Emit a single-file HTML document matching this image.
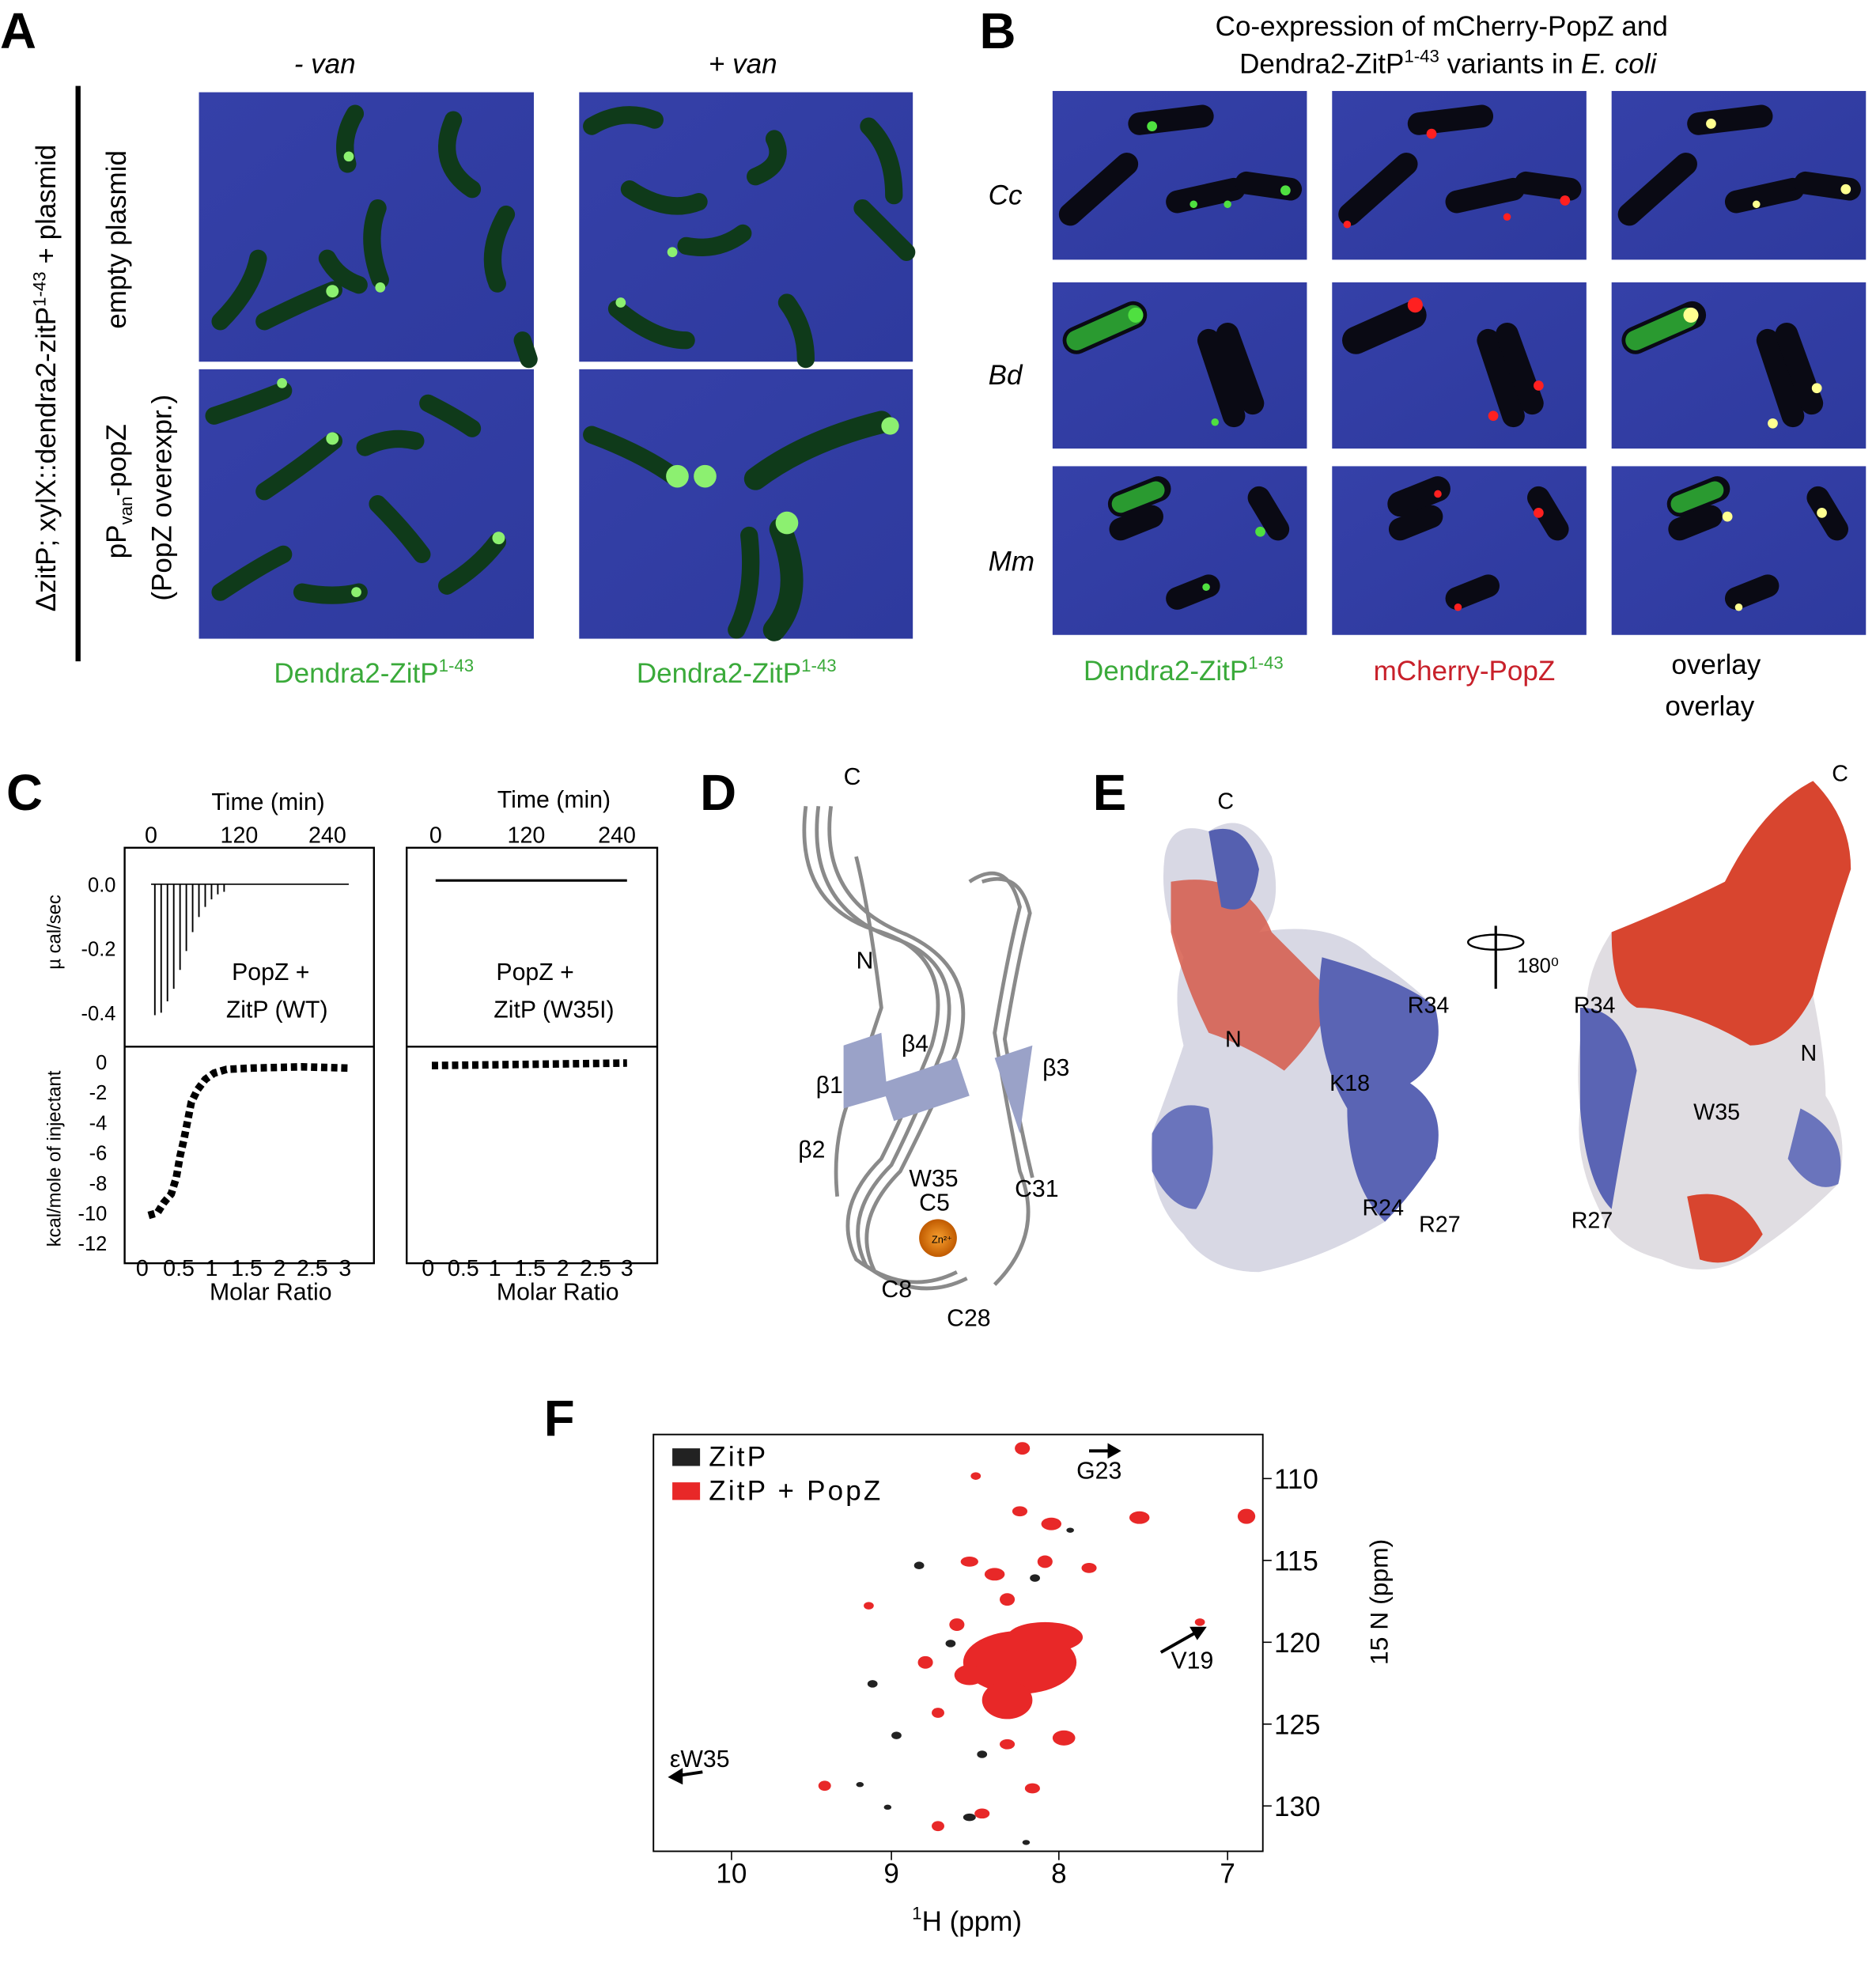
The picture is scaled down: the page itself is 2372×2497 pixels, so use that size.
<!DOCTYPE html>
<html><head><meta charset="utf-8"><style>
html,body{margin:0;padding:0;background:#fff}
svg{display:block}
text{font-family:"Liberation Sans",sans-serif}
</style></head><body>
<svg width="2372" height="2497" viewBox="0 0 1490 1568" xmlns="http://www.w3.org/2000/svg">
<defs>
<linearGradient id="bg" x1="0" y1="0" x2="1" y2="1"><stop offset="0" stop-color="#3540a8"/><stop offset="1" stop-color="#2e3a9e"/></linearGradient>
<radialGradient id="zn"><stop offset="0" stop-color="#f7a030"/><stop offset="1" stop-color="#c05a00"/></radialGradient>
</defs>
<!-- Panel A -->
<text x="0" y="38" font-size="40" font-weight="bold">A</text>
<text x="258" y="58" font-size="22" text-anchor="middle" font-style="italic">- van</text>
<text x="590" y="58" font-size="22" text-anchor="middle" font-style="italic">+ van</text>
<line x1="62" y1="68" x2="62" y2="525" stroke="#000" stroke-width="4"/>
<text transform="translate(44,300) rotate(-90)" font-size="22" text-anchor="middle">ΔzitP; xylX::dendra2-zitP<tspan font-size="14" dy="-8">1-43</tspan><tspan dy="8"> + plasmid</tspan></text>
<text transform="translate(100,190) rotate(-90)" font-size="22" text-anchor="middle">empty plasmid</text>
<text transform="translate(100,390) rotate(-90)" font-size="22" text-anchor="middle">pP<tspan font-size="14" dy="5">van</tspan><tspan dy="-5">-popZ</tspan></text>
<text transform="translate(136,395) rotate(-90)" font-size="22" text-anchor="middle">(PopZ overexpr.)</text>
<g>
<rect x="158" y="73" width="266" height="214" fill="url(#bg)"/>
<rect x="460" y="73" width="265" height="214" fill="url(#bg)"/>
<rect x="158" y="293" width="266" height="214" fill="url(#bg)"/>
<rect x="460" y="293" width="265" height="214" fill="url(#bg)"/>
<g stroke="#0f3a1a" stroke-width="14" stroke-linecap="round" fill="none">
<path d="M282 90 Q270 110 276 130"/><path d="M260 205 Q268 220 285 226"/><path d="M300 165 Q290 190 302 222"/>
<path d="M360 95 Q345 130 375 150"/><path d="M402 170 Q385 200 395 225"/><path d="M175 255 Q200 230 205 205"/>
<path d="M210 255 Q240 240 265 230"/><path d="M415 270 L420 285"/>
<path d="M470 100 Q495 85 520 95"/><path d="M500 150 Q530 170 555 160"/><path d="M545 195 Q570 200 590 185"/>
<path d="M600 140 Q625 130 615 110"/><path d="M690 100 Q710 120 710 155"/><path d="M490 245 Q520 270 545 270"/>
<path d="M625 240 Q640 260 640 285"/><path d="M685 165 Q710 190 720 200"/>
<path d="M170 330 Q200 320 225 310"/><path d="M210 390 Q240 370 265 350"/><path d="M175 470 Q205 450 225 440"/>
<path d="M300 400 Q320 420 335 440"/><path d="M340 320 Q360 330 375 340"/><path d="M290 355 Q310 345 330 350"/>
<path d="M355 465 Q380 450 395 430"/><path d="M240 470 Q265 475 285 470"/>
<path d="M470 345 Q510 360 535 378"/><path d="M600 380 Q640 350 700 335" stroke-width="18"/><path d="M620 420 Q640 470 615 500" stroke-width="18"/><path d="M595 425 Q600 470 585 500"/>
</g>
<g fill="#8cf070">
<circle cx="277" cy="124" r="4"/><circle cx="264" cy="231" r="5"/><circle cx="302" cy="228" r="4"/><circle cx="224" cy="304" r="4"/>
<circle cx="264" cy="348" r="5"/><circle cx="283" cy="470" r="4"/><circle cx="396" cy="427" r="5"/><circle cx="534" cy="200" r="4"/>
<circle cx="493" cy="240" r="4"/><circle cx="538" cy="378" r="9"/><circle cx="560" cy="378" r="9"/><circle cx="625" cy="415" r="9"/><circle cx="707" cy="338" r="7"/>
</g>
</g>
<text x="297" y="542" font-size="22" text-anchor="middle" fill="#3aaa3a">Dendra2-ZitP<tspan font-size="14" dy="-9">1-43</tspan></text>
<text x="585" y="542" font-size="22" text-anchor="middle" fill="#3aaa3a">Dendra2-ZitP<tspan font-size="14" dy="-9">1-43</tspan></text>
<!-- Panel B -->
<text x="778" y="38" font-size="40" font-weight="bold">B</text>
<text x="1145" y="28" font-size="22" text-anchor="middle">Co-expression of mCherry-PopZ and</text>
<text x="1150" y="58" font-size="22" text-anchor="middle">Dendra2-ZitP<tspan font-size="14" dy="-9">1-43</tspan><tspan dy="9"> variants in </tspan><tspan font-style="italic">E. coli</tspan></text>
<text x="785" y="162" font-size="22" font-style="italic">Cc</text>
<text x="785" y="305" font-size="22" font-style="italic">Bd</text>
<text x="785" y="453" font-size="22" font-style="italic">Mm</text>
<g>
<g id="row">
</g>
<rect x="836" y="72" width="202" height="134" fill="url(#bg)"/><rect x="1058" y="72" width="202" height="134" fill="url(#bg)"/><rect x="1280" y="72" width="202" height="134" fill="url(#bg)"/>
<rect x="836" y="224" width="202" height="132" fill="url(#bg)"/><rect x="1058" y="224" width="202" height="132" fill="url(#bg)"/><rect x="1280" y="224" width="202" height="132" fill="url(#bg)"/>
<rect x="836" y="370" width="202" height="134" fill="url(#bg)"/><rect x="1058" y="370" width="202" height="134" fill="url(#bg)"/><rect x="1280" y="370" width="202" height="134" fill="url(#bg)"/>
<g stroke="#0a0a14" stroke-width="18" stroke-linecap="round">
<path d="M905 98 L955 92"/><path d="M850 170 L895 130"/><path d="M935 160 L980 150"/><path d="M990 145 L1025 150"/>
<path d="M1127 98 L1177 92"/><path d="M1072 170 L1117 130"/><path d="M1157 160 L1202 150"/><path d="M1212 145 L1247 150"/>
<path d="M1349 98 L1399 92"/><path d="M1294 170 L1339 130"/><path d="M1379 160 L1424 150"/><path d="M1434 145 L1469 150"/>
<path d="M855 270 L900 250" stroke-width="22"/><path d="M960 270 L980 330"/><path d="M975 265 L995 320"/>
<path d="M1077 270 L1122 250" stroke-width="22"/><path d="M1182 270 L1202 330"/><path d="M1197 265 L1217 320"/>
<path d="M1299 270 L1344 250" stroke-width="22"/><path d="M1404 270 L1424 330"/><path d="M1419 265 L1439 320"/>
<path d="M890 400 L920 388" stroke-width="20"/><path d="M890 420 L915 410"/><path d="M1000 395 L1015 420"/><path d="M935 475 L960 465"/>
<path d="M1112 400 L1142 388" stroke-width="20"/><path d="M1112 420 L1137 410"/><path d="M1222 395 L1237 420"/><path d="M1157 475 L1182 465"/>
<path d="M1334 400 L1364 388" stroke-width="20"/><path d="M1334 420 L1359 410"/><path d="M1444 395 L1459 420"/><path d="M1379 475 L1404 465"/>
</g>
<path d="M855 270 L900 250" stroke="#2a9a30" stroke-width="16" stroke-linecap="round"/>
<path d="M1299 270 L1340 252" stroke="#2a9a30" stroke-width="16" stroke-linecap="round"/>
<path d="M890 400 L918 389" stroke="#2a9a30" stroke-width="14" stroke-linecap="round"/>
<path d="M1334 400 L1362 389" stroke="#2a9a30" stroke-width="14" stroke-linecap="round"/>
<g fill="#4fe040"><circle cx="915" cy="100" r="4"/><circle cx="1021" cy="151" r="4"/><circle cx="948" cy="162" r="3"/><circle cx="975" cy="162" r="3"/><circle cx="902" cy="250" r="6"/><circle cx="965" cy="335" r="3"/><circle cx="1001" cy="422" r="4"/><circle cx="958" cy="466" r="3"/></g>
<g fill="#ff2020"><circle cx="1137" cy="106" r="4"/><circle cx="1243" cy="159" r="4"/><circle cx="1070" cy="178" r="3"/><circle cx="1197" cy="172" r="3"/><circle cx="1124" cy="242" r="6"/><circle cx="1222" cy="306" r="4"/><circle cx="1186" cy="330" r="4"/><circle cx="1142" cy="392" r="3"/><circle cx="1222" cy="407" r="4"/><circle cx="1158" cy="482" r="3"/></g>
<g fill="#ffff90"><circle cx="1359" cy="98" r="4"/><circle cx="1466" cy="150" r="4"/><circle cx="1395" cy="162" r="3"/><circle cx="1343" cy="250" r="6"/><circle cx="1443" cy="308" r="4"/><circle cx="1408" cy="336" r="4"/><circle cx="1372" cy="410" r="4"/><circle cx="1447" cy="407" r="4"/><circle cx="1381" cy="482" r="3"/></g>
</g>
<text x="940" y="540" font-size="22" text-anchor="middle" fill="#3aaa3a">Dendra2-ZitP<tspan font-size="14" dy="-9">1-43</tspan></text>
<text x="1163" y="540" font-size="22" text-anchor="middle" fill="#c8202a">mCherry-PopZ</text>
<text x="1363" y="535" font-size="22" text-anchor="middle">overlay</text>
<text x="1358" y="568" font-size="22" text-anchor="middle">overlay</text>
<!-- Panel C -->
<text x="5" y="643" font-size="40" font-weight="bold">C</text>
<text x="213" y="643" font-size="19" text-anchor="middle">Time (min)</text>
<text x="440" y="641" font-size="19" text-anchor="middle">Time (min)</text>
<g font-size="18" text-anchor="middle"><text x="120" y="669">0</text><text x="190" y="669">120</text><text x="260" y="669">240</text>
<text x="346" y="669">0</text><text x="418" y="669">120</text><text x="490" y="669">240</text></g>
<g fill="none" stroke="#000" stroke-width="1.5"><rect x="99" y="673" width="198" height="330"/><line x1="99" y1="831" x2="297" y2="831"/>
<rect x="323" y="673" width="199" height="330"/><line x1="323" y1="831" x2="522" y2="831"/></g>
<g font-size="16" text-anchor="end"><text x="92" y="708">0.0</text><text x="92" y="759">-0.2</text><text x="92" y="810">-0.4</text>
<text x="85" y="849">0</text><text x="85" y="873">-2</text><text x="85" y="897">-4</text><text x="85" y="921">-6</text><text x="85" y="945">-8</text><text x="85" y="969">-10</text><text x="85" y="993">-12</text></g>
<text transform="translate(48,740) rotate(-90)" font-size="15" text-anchor="middle">µ cal/sec</text>
<text transform="translate(48,920) rotate(-90)" font-size="15" text-anchor="middle">kcal/mole of injectant</text>
<path d="M120 702 L277 702" stroke="#000" fill="none"/>
<g stroke="#000" stroke-width="1.2">
<line x1="123" y1="702" x2="123" y2="806"/><line x1="128" y1="702" x2="128" y2="804"/><line x1="133" y1="702" x2="133" y2="795"/><line x1="138" y1="702" x2="138" y2="785"/><line x1="143" y1="702" x2="143" y2="770"/><line x1="148" y1="702" x2="148" y2="755"/><line x1="153" y1="702" x2="153" y2="740"/><line x1="158" y1="702" x2="158" y2="728"/><line x1="163" y1="702" x2="163" y2="720"/><line x1="168" y1="702" x2="168" y2="714"/><line x1="173" y1="702" x2="173" y2="710"/><line x1="178" y1="702" x2="178" y2="708"/>
</g>
<path d="M346 699 L498 699" stroke="#000" stroke-width="2"/>
<text x="215" y="778" font-size="19" text-anchor="middle">PopZ +</text><text x="220" y="808" font-size="19" text-anchor="middle">ZitP (WT)</text>
<text x="425" y="778" font-size="19" text-anchor="middle">PopZ +</text><text x="440" y="808" font-size="19" text-anchor="middle">ZitP (W35I)</text>
<path d="M118 965 L125 963 L130 955 L136 948 L140 935 L143 918 L146 905 L149 890 L152 875 L157 865 L163 857 L170 852 L180 849 L200 848 L240 847 L277 848" fill="none" stroke="#000" stroke-width="6" stroke-dasharray="5 3"/>
<path d="M343 846 L498 844" fill="none" stroke="#000" stroke-width="6" stroke-dasharray="5 3"/>
<g font-size="18" text-anchor="middle"><text x="113" y="1013">0</text><text x="142" y="1013">0.5</text><text x="168" y="1013">1</text><text x="196" y="1013">1.5</text><text x="222" y="1013">2</text><text x="248" y="1013">2.5</text><text x="274" y="1013">3</text>
<text x="340" y="1013">0</text><text x="368" y="1013">0.5</text><text x="393" y="1013">1</text><text x="421" y="1013">1.5</text><text x="447" y="1013">2</text><text x="473" y="1013">2.5</text><text x="498" y="1013">3</text></g>
<text x="215" y="1032" font-size="19" text-anchor="middle">Molar Ratio</text>
<text x="443" y="1032" font-size="19" text-anchor="middle">Molar Ratio</text>
<!-- Panel D -->
<text x="556" y="643" font-size="40" font-weight="bold">D</text>
<g fill="none" stroke="#8a8a8a" stroke-width="3">
<path d="M640 640 Q630 720 700 740 Q760 760 740 830 Q720 880 700 920 Q660 960 680 1000 Q720 1030 760 1010"/>
<path d="M650 640 Q640 720 710 745 Q770 765 748 835 Q728 885 708 925 Q668 965 688 1005 Q728 1035 768 1015"/>
<path d="M660 640 Q650 715 720 742 Q780 770 760 835 Q738 885 715 930 Q675 970 695 1010"/>
<path d="M770 700 Q800 680 810 720 Q800 760 790 820 Q800 880 810 930 Q830 980 790 1020"/>
<path d="M780 700 Q810 690 818 725 Q808 765 798 825 Q808 885 820 935"/>
<path d="M680 680 Q690 720 700 800 L680 860 Q660 900 665 950"/>
</g>
<g fill="#9aa2c8"><path d="M700 860 L760 840 L770 870 L710 890Z"/><path d="M790 840 L820 830 L810 900Z"/><path d="M670 830 L700 820 L705 870 L670 880Z"/></g>
<circle cx="745" cy="983" r="15" fill="url(#zn)"/>
<text x="740" y="987" font-size="8">Zn²⁺</text>
<g font-size="19"><text x="670" y="623">C</text><text x="680" y="769">N</text><text x="716" y="835">β4</text><text x="828" y="854">β3</text><text x="648" y="868">β1</text><text x="634" y="919">β2</text><text x="722" y="942">W35</text><text x="730" y="961">C5</text><text x="806" y="950">C31</text><text x="700" y="1030">C8</text><text x="752" y="1053">C28</text></g>
<!-- Panel E -->
<text x="868" y="643" font-size="40" font-weight="bold">E</text>
<path d="M925 680 Q930 650 960 660 Q990 640 1010 680 Q1020 720 1000 740 Q1060 730 1090 760 Q1120 780 1140 800 Q1150 840 1120 860 Q1150 880 1140 920 Q1120 950 1100 970 Q1050 1000 1000 1010 Q960 1010 940 980 Q910 950 915 900 Q930 860 940 830 Q930 790 940 760 Q920 720 925 680Z" fill="#d8d8e4"/>
<path d="M930 700 Q990 690 1010 740 Q1040 770 1060 790 Q1050 820 1020 850 Q990 830 960 820 Q940 780 930 740Z" fill="#d65a4a" opacity=".85"/>
<path d="M960 660 Q990 650 1000 690 Q995 730 970 720 Z" fill="#5560b0"/>
<path d="M1050 760 Q1120 780 1140 800 Q1150 840 1120 860 Q1150 880 1140 920 Q1120 950 1100 970 Q1070 940 1070 880 Q1040 830 1050 760Z" fill="#5a64b4"/>
<path d="M915 900 Q930 870 960 880 Q970 930 950 960 Q930 960 915 930Z" fill="#6a74bc"/>
<path d="M1280 740 Q1330 720 1370 700 Q1400 640 1440 620 Q1470 650 1470 690 Q1450 750 1440 790 Q1450 840 1450 870 Q1470 900 1460 940 Q1430 970 1400 990 Q1360 1020 1320 1000 Q1280 990 1270 960 Q1250 920 1255 880 Q1250 840 1260 800 Q1260 770 1280 740Z" fill="#e0dde2"/>
<path d="M1280 740 Q1330 720 1370 700 Q1400 640 1440 620 Q1470 650 1470 690 Q1450 750 1440 790 Q1420 830 1390 830 Q1340 800 1300 800 Q1280 790 1280 740Z" fill="#d8452f"/>
<path d="M1255 800 Q1290 800 1300 850 Q1290 900 1280 960 Q1260 940 1255 880Z" fill="#5a64b4"/>
<path d="M1430 880 Q1470 900 1460 940 Q1440 950 1420 920Z" fill="#6a74bc"/>
<path d="M1340 950 Q1380 940 1400 980 Q1380 1010 1350 1000Z" fill="#d8452f"/>
<g font-size="18"><text x="967" y="642">C</text><text x="973" y="831">N</text><text x="1118" y="804">R34</text><text x="1056" y="866">K18</text><text x="1082" y="965">R24</text><text x="1127" y="978">R27</text>
<text x="1455" y="620">C</text><text x="1250" y="804">R34</text><text x="1430" y="842">N</text><text x="1345" y="889">W35</text><text x="1248" y="975">R27</text><text x="1205" y="772" font-size="16">180⁰</text></g>
<line x1="1188" y1="735" x2="1188" y2="785" stroke="#000" stroke-width="2"/>
<ellipse cx="1188" cy="748" rx="22" ry="6" fill="none" stroke="#000" stroke-width="1.5"/>
<!-- Panel F -->
<text x="432" y="1140" font-size="40" font-weight="bold">F</text>
<rect x="519" y="1139" width="484" height="331" fill="none" stroke="#000" stroke-width="1.2"/>
<rect x="534" y="1150" width="22" height="14" fill="#222"/><rect x="534" y="1177" width="22" height="14" fill="#e82828"/>
<text x="563" y="1164" font-size="22" letter-spacing="2">ZitP</text>
<text x="563" y="1191" font-size="22" letter-spacing="2">ZitP + PopZ</text>
<g font-size="22"><text x="1012" y="1182">110</text><text x="1012" y="1247">115</text><text x="1012" y="1312">120</text><text x="1012" y="1377">125</text><text x="1012" y="1442">130</text></g>
<g stroke="#000"><line x1="1003" y1="1174" x2="1010" y2="1174"/><line x1="1003" y1="1239" x2="1010" y2="1239"/><line x1="1003" y1="1304" x2="1010" y2="1304"/><line x1="1003" y1="1369" x2="1010" y2="1369"/><line x1="1003" y1="1434" x2="1010" y2="1434"/>
<line x1="581" y1="1470" x2="581" y2="1477"/><line x1="708" y1="1470" x2="708" y2="1477"/><line x1="841" y1="1470" x2="841" y2="1477"/><line x1="975" y1="1470" x2="975" y2="1477"/></g>
<text transform="translate(1102,1272) rotate(-90)" font-size="20" text-anchor="middle">15 N (ppm)</text>
<g font-size="22" text-anchor="middle"><text x="581" y="1495">10</text><text x="708" y="1495">9</text><text x="841" y="1495">8</text><text x="975" y="1495">7</text></g>
<text x="768" y="1533" font-size="22" text-anchor="middle"><tspan font-size="14" dy="-9">1</tspan><tspan dy="9">H (ppm)</tspan></text>
<g fill="#e82828">
<ellipse cx="810" cy="1320" rx="45" ry="25"/><ellipse cx="830" cy="1300" rx="30" ry="12"/><ellipse cx="800" cy="1350" rx="20" ry="15"/><ellipse cx="770" cy="1330" rx="12" ry="8"/>
<ellipse cx="812" cy="1150" rx="6" ry="5"/><ellipse cx="990" cy="1204" rx="7" ry="6"/><ellipse cx="905" cy="1205" rx="8" ry="5"/><ellipse cx="810" cy="1200" rx="6" ry="4"/><ellipse cx="835" cy="1210" rx="8" ry="5"/>
<ellipse cx="790" cy="1250" rx="8" ry="5"/><ellipse cx="830" cy="1240" rx="6" ry="5"/><ellipse cx="770" cy="1240" rx="7" ry="4"/><ellipse cx="865" cy="1245" rx="6" ry="4"/>
<ellipse cx="800" cy="1270" rx="6" ry="5"/><ellipse cx="760" cy="1290" rx="6" ry="5"/><ellipse cx="735" cy="1320" rx="6" ry="5"/><ellipse cx="845" cy="1380" rx="9" ry="6"/>
<ellipse cx="820" cy="1420" rx="6" ry="4"/><ellipse cx="780" cy="1440" rx="6" ry="4"/><ellipse cx="745" cy="1450" rx="5" ry="4"/><ellipse cx="655" cy="1418" rx="5" ry="4"/><ellipse cx="690" cy="1275" rx="4" ry="3"/><ellipse cx="745" cy="1360" rx="5" ry="4"/><ellipse cx="800" cy="1385" rx="6" ry="4"/><ellipse cx="953" cy="1288" rx="4" ry="3"/><ellipse cx="775" cy="1172" rx="4" ry="3"/>
</g>
<g fill="#222"><ellipse cx="730" cy="1243" rx="4" ry="3"/><ellipse cx="712" cy="1378" rx="4" ry="3"/><ellipse cx="770" cy="1443" rx="5" ry="3"/><ellipse cx="705" cy="1435" rx="3" ry="2"/><ellipse cx="780" cy="1393" rx="4" ry="3"/><ellipse cx="755" cy="1305" rx="4" ry="3"/><ellipse cx="850" cy="1215" rx="3" ry="2"/><ellipse cx="693" cy="1337" rx="4" ry="3"/><ellipse cx="815" cy="1463" rx="3" ry="2"/><ellipse cx="822" cy="1253" rx="4" ry="3"/><ellipse cx="683" cy="1417" rx="3" ry="2"/></g>
<g stroke="#000" stroke-width="2.5" fill="#000">
<line x1="865" y1="1152" x2="885" y2="1152"/><path d="M888 1152 l-7 -4 v8z"/>
<line x1="922" y1="1312" x2="952" y2="1295"/><path d="M956 1293 l-9 0 4 7z"/>
<line x1="558" y1="1407" x2="538" y2="1410"/><path d="M533 1411 l8 -5 v9z"/>
</g>
<text x="855" y="1174" font-size="19">G23</text>
<text x="930" y="1325" font-size="19">V19</text>
<text x="532" y="1403" font-size="19">εW35</text>
</svg>
</body></html>
